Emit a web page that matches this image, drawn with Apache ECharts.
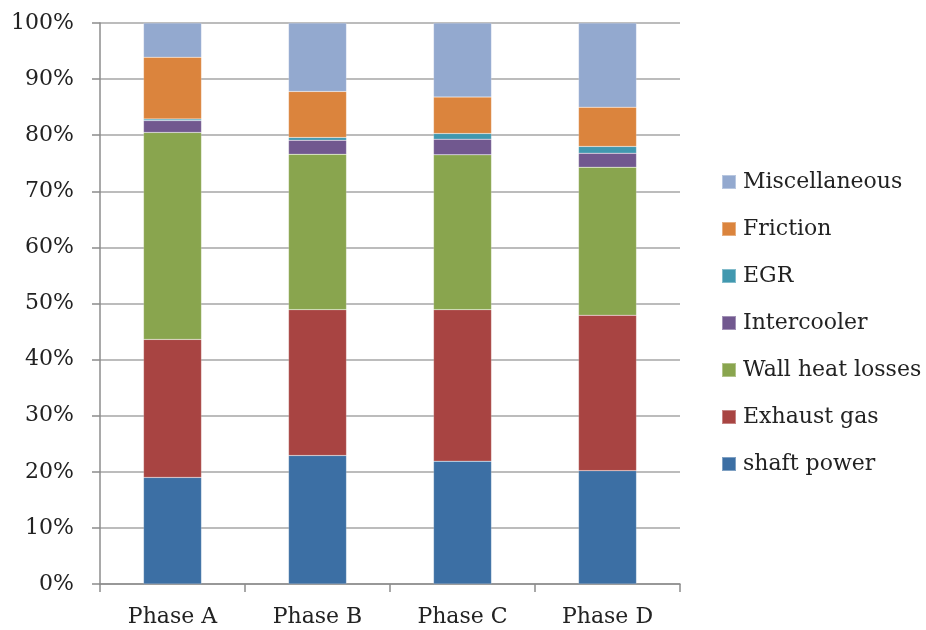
<!DOCTYPE html>
<html>
<head>
<meta charset="utf-8">
<script src="https://cdn.jsdelivr.net/npm/echarts@6/dist/echarts.min.js"></script>
<style>
  html, body { margin: 0; padding: 0; background: #fff; }
  #energy_chart { width: 926px; height: 630px; }
</style>
</head>
<body>
<div id="energy_chart"></div>
<script>
var phases = ['Phase A', 'Phase B', 'Phase C', 'Phase D'];
// percent shares
var shaft_power = [19.0, 22.9, 21.9, 20.2];
var exhaust_gas = [24.6, 26.0, 27.0, 27.7];
var wall_heat = [36.9, 27.7, 27.6, 26.4];
var intercooler = [2.1, 2.5, 2.8, 2.5];
var egr = [0.3, 0.5, 1.0, 1.2];
var friction = [11.0, 8.2, 6.5, 7.0];
var miscellaneous = [6.1, 12.2, 13.2, 15.0];

var series_names = ['shaft power', 'Exhaust gas', 'Wall heat losses', 'Intercooler', 'EGR', 'Friction', 'Miscellaneous'];
var series_data = [shaft_power, exhaust_gas, wall_heat, intercooler, egr, friction, miscellaneous];
var series_colors = ['#3C6FA4', '#A84442', '#89A54E', '#71588F', '#4198AF', '#DB843D', '#93A9CF'];

function graph_stack(id) {
  var myChart = echarts.init(document.getElementById(id));
  var fontFam = '"DejaVu Serif", serif';
  var series = [];
  for (var i = 0; i < series_names.length; i++) {
    series.push({
      name: series_names[i],
      type: 'bar',
      stack: 'total',
      barWidth: 58,
      itemStyle: { color: series_colors[i], borderColor: 'rgba(255,255,255,0.35)', borderWidth: 0.5 },
      data: series_data[i]
    });
  }
  var option = {
    animation: false,
    legend: {
      orient: 'vertical',
      left: 716,
      top: 166,
      itemWidth: 14,
      itemHeight: 14,
      itemGap: 25,
      icon: 'rect',
      // top item is Miscellaneous
      data: series_names.slice().reverse(),
      textStyle: { fontFamily: fontFam, fontSize: 22, lineHeight: 22, color: '#222', padding: [0, 0, 0, 2] }
    },
    grid: {
      left: 100,
      right: 246,
      top: 23,
      bottom: 46
    },
    xAxis: {
      type: 'category',
      data: phases,
      axisLine: { lineStyle: { color: '#8c8c8c', width: 1.5 } },
      axisTick: { show: true, length: 8, lineStyle: { color: '#8c8c8c', width: 1.5 } },
      axisLabel: { fontFamily: fontFam, fontSize: 22, color: '#222', margin: 22 }
    },
    yAxis: {
      type: 'value',
      min: 0,
      max: 100,
      interval: 10,
      axisLine: { show: true, lineStyle: { color: '#8c8c8c', width: 1.5 } },
      axisTick: { show: true, length: 8, lineStyle: { color: '#8c8c8c', width: 1.5 } },
      splitLine: { lineStyle: { color: '#a6a6a6', width: 1.5 } },
      axisLabel: { fontFamily: fontFam, fontSize: 22, color: '#222', margin: 26, formatter: '{value}%' }
    },
    series: series
  };
  myChart.setOption(option);
}
graph_stack('energy_chart');
</script>
</body>
</html>
